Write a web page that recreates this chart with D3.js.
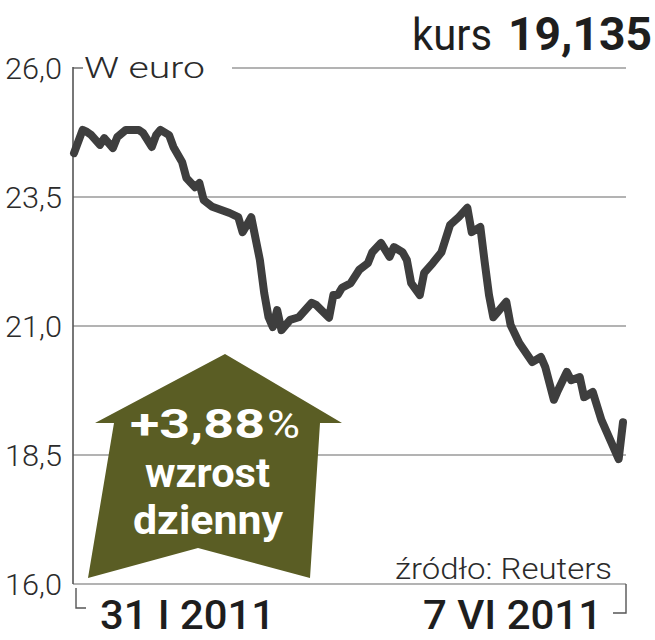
<!DOCTYPE html>
<html>
<head>
<meta charset="utf-8">
<script src="https://cdn.jsdelivr.net/npm/d3@7"></script>
<style>
  body { margin: 0; background: #fff; }
  svg { display: block; }
</style>
</head>
<body>
<div id="chart"></div>
<script>
// kurs w euro, 31 I 2011 - 7 VI 2011
var dates = [
  "2011-01-31","2011-02-02","2011-02-03","2011-02-04","2011-02-06","2011-02-07","2011-02-09","2011-02-10",
  "2011-02-12","2011-02-15","2011-02-16","2011-02-18","2011-02-19","2011-02-20","2011-02-22","2011-02-23",
  "2011-02-25","2011-02-26","2011-02-28","2011-03-01","2011-03-02","2011-03-04","2011-03-08","2011-03-10",
  "2011-03-11","2011-03-12","2011-03-13","2011-03-15","2011-03-16","2011-03-17","2011-03-18","2011-03-19",
  "2011-03-20","2011-03-22","2011-03-24","2011-03-27","2011-03-28","2011-03-31","2011-04-01","2011-04-02",
  "2011-04-03","2011-04-05","2011-04-07","2011-04-09","2011-04-10","2011-04-12","2011-04-14","2011-04-15",
  "2011-04-17","2011-04-18","2011-04-19","2011-04-21","2011-04-22","2011-04-24","2011-04-26","2011-04-28",
  "2011-04-30","2011-05-02","2011-05-03","2011-05-05","2011-05-06","2011-05-07","2011-05-08","2011-05-09",
  "2011-05-11","2011-05-12","2011-05-14","2011-05-17","2011-05-19","2011-05-20","2011-05-22","2011-05-23",
  "2011-05-25","2011-05-26","2011-05-28","2011-05-29","2011-05-31","2011-06-02","2011-06-06","2011-06-07"
];
var prices = [
  24.35, 24.80, 24.76, 24.70, 24.51, 24.64, 24.45, 24.66,
  24.80, 24.80, 24.74, 24.47, 24.70, 24.80, 24.70, 24.47,
  24.18, 23.87, 23.69, 23.77, 23.44, 23.31, 23.19, 23.11,
  22.82, 22.96, 23.11, 22.28, 21.64, 21.17, 20.98, 21.31,
  20.92, 21.12, 21.17, 21.45, 21.41, 21.16, 21.60, 21.60,
  21.74, 21.83, 22.09, 22.22, 22.43, 22.61, 22.34, 22.53,
  22.43, 22.28, 21.83, 21.60, 22.03, 22.22, 22.43, 22.96,
  23.11, 23.29, 22.82, 22.92, 22.24, 21.60, 21.17, 21.27,
  21.47, 21.02, 20.67, 20.30, 20.40, 20.21, 19.57, 19.76,
  20.11, 19.95, 20.01, 19.62, 19.72, 19.18, 18.42, 19.135
];
var yTicks = [16.0, 18.5, 21.0, 23.5, 26.0];
var startLabel = "31 I 2011";
var endLabel = "7 VI 2011";
var lastPrice = "19,135";
var dailyChange = "+3,88";

var width = 655;
var height = 640;

var plot = { left: 73, right: 626, top: 68, bottom: 584 };

var parseDate = d3.timeParse("%Y-%m-%d");
var data = dates.map(function(d, i) {
  return { date: parseDate(d), price: prices[i] };
});

var pl = d3.formatLocale({ decimal: ",", thousands: " ", grouping: [3], currency: ["", " €"] });
var fmt = pl.format(".1f");

var svg = d3.select("#chart")
  .append("svg")
  .attr("width", width)
  .attr("height", height)
  .style("background", "#fff");

var xScale = d3.scaleTime()
  .domain(d3.extent(data, d => d.date))
  .range([74, 623]);

var yScale = d3.scaleLinear()
  .domain([16, 26])
  .range([plot.bottom, plot.top]);

// gridlines
svg.append("g")
  .selectAll("line")
  .data(yTicks)
  .enter()
  .append("line")
  .attr("x1", d => d === 26 ? 232 : plot.left)
  .attr("x2", plot.right)
  .attr("y1", d => yScale(d))
  .attr("y2", d => yScale(d))
  .attr("stroke", "#9a9a9a")
  .attr("stroke-width", 1.6);

// small tick at the top of the axis
svg.append("line")
  .attr("x1", plot.left).attr("x2", 83)
  .attr("y1", yScale(26)).attr("y2", yScale(26))
  .attr("stroke", "#666").attr("stroke-width", 1.4);

// vertical axis line
svg.append("line")
  .attr("x1", plot.left).attr("x2", plot.left)
  .attr("y1", yScale(26) - 1).attr("y2", yScale(16))
  .attr("stroke", "#555").attr("stroke-width", 1.6);

// y axis labels
var yAxis = d3.axisLeft(yScale)
  .tickValues(yTicks)
  .tickFormat(fmt)
  .tickSize(0)
  .tickPadding(11);

var yG = svg.append("g")
  .attr("transform", `translate(${plot.left}, 0)`)
  .call(yAxis);

yG.select(".domain").remove();
yG.selectAll("text")
  .attr("dy", "0.36em")
  .style("font-family", "Roboto, 'Noto Sans', sans-serif")
  .style("font-weight", 300)
  .style("font-size", "29px")
  .style("fill", "#2b2b2b")
  .attr("textLength", 57)
  .attr("lengthAdjust", "spacingAndGlyphs");

svg.append("text")
  .attr("x", 84)
  .attr("y", yScale(26) + 10)
  .style("font-family", "Roboto, 'Noto Sans', sans-serif")
  .style("font-weight", 300)
  .style("font-size", "29px")
  .style("fill", "#2b2b2b")
  .attr("textLength", 121)
  .attr("lengthAdjust", "spacingAndGlyphs")
  .text("W euro");

// bottom brackets
svg.append("path")
  .attr("d", "M76,588 V608 H86")
  .attr("fill", "none").attr("stroke", "#555").attr("stroke-width", 1.4);
svg.append("path")
  .attr("d", `M${plot.right},${yScale(16)} V613 H613`)
  .attr("fill", "none").attr("stroke", "#555").attr("stroke-width", 1.4);

// date labels
svg.append("text")
  .attr("x", 100)
  .attr("y", 629)
  .style("font-family", "Roboto, sans-serif")
  .style("font-weight", 500)
  .style("font-size", "41px")
  .style("fill", "#1e1e1e")
  .attr("textLength", 175)
  .attr("lengthAdjust", "spacingAndGlyphs")
  .text(startLabel);

svg.append("text")
  .attr("x", 602)
  .attr("y", 629)
  .attr("text-anchor", "end")
  .style("font-family", "Roboto, sans-serif")
  .style("font-weight", 500)
  .style("font-size", "40px")
  .style("fill", "#1e1e1e")
  .attr("textLength", 179)
  .attr("lengthAdjust", "spacingAndGlyphs")
  .text(endLabel);

// source
svg.append("text")
  .attr("x", 612)
  .attr("y", 579)
  .attr("text-anchor", "end")
  .style("font-family", "Roboto, sans-serif")
  .style("font-weight", 300)
  .style("font-size", "29px")
  .style("fill", "#2b2b2b")
  .attr("textLength", 217)
  .attr("lengthAdjust", "spacingAndGlyphs")
  .text("źródło: Reuters");

// title
svg.append("text")
  .attr("x", 412)
  .attr("y", 50)
  .style("font-family", "Roboto, sans-serif")
  .style("font-weight", 400)
  .style("font-size", "45px")
  .style("fill", "#1e1e1e")
  .attr("textLength", 80)
  .attr("lengthAdjust", "spacingAndGlyphs")
  .text("kurs");

svg.append("text")
  .attr("x", 652)
  .attr("y", 50)
  .attr("text-anchor", "end")
  .style("font-family", "Roboto, sans-serif")
  .style("font-weight", 700)
  .style("font-size", "47px")
  .style("fill", "#1e1e1e")
  .attr("textLength", 144)
  .attr("lengthAdjust", "spacingAndGlyphs")
  .text(lastPrice);

// arrow with daily change
var arrowPts = [[225, 354], [342, 423], [320, 423], [310, 578], [198, 548], [88, 578], [114, 423], [95, 423]];
svg.append("path")
  .attr("d", d3.line()(arrowPts) + "Z")
  .attr("fill", "#5a5d24");

var boxText = svg.append("g")
  .style("font-family", "Roboto, sans-serif")
  .style("fill", "#fff");

boxText.append("text")
  .attr("x", 130)
  .attr("y", 438)
  .style("font-weight", 700)
  .style("font-size", "40px")
  .attr("textLength", 135)
  .attr("lengthAdjust", "spacingAndGlyphs")
  .text(dailyChange);

boxText.append("text")
  .attr("x", 267)
  .attr("y", 438)
  .style("font-weight", 400)
  .style("font-size", "38px")
  .attr("textLength", 33)
  .attr("lengthAdjust", "spacingAndGlyphs")
  .text("%");

boxText.append("text")
  .attr("x", 145)
  .attr("y", 487)
  .style("font-weight", 700)
  .style("font-size", "40px")
  .attr("textLength", 125)
  .attr("lengthAdjust", "spacingAndGlyphs")
  .text("wzrost");

boxText.append("text")
  .attr("x", 133)
  .attr("y", 534)
  .style("font-weight", 700)
  .style("font-size", "40px")
  .attr("textLength", 150)
  .attr("lengthAdjust", "spacingAndGlyphs")
  .text("dzienny");

// price line
var line = d3.line()
  .x(d => xScale(d.date))
  .y(d => yScale(d.price));

svg.append("path")
  .datum(data)
  .attr("d", line)
  .attr("fill", "none")
  .attr("stroke", "#3e3e3e")
  .attr("stroke-width", 8)
  .attr("stroke-linejoin", "round")
  .attr("stroke-linecap", "round");
</script>
</body>
</html>
